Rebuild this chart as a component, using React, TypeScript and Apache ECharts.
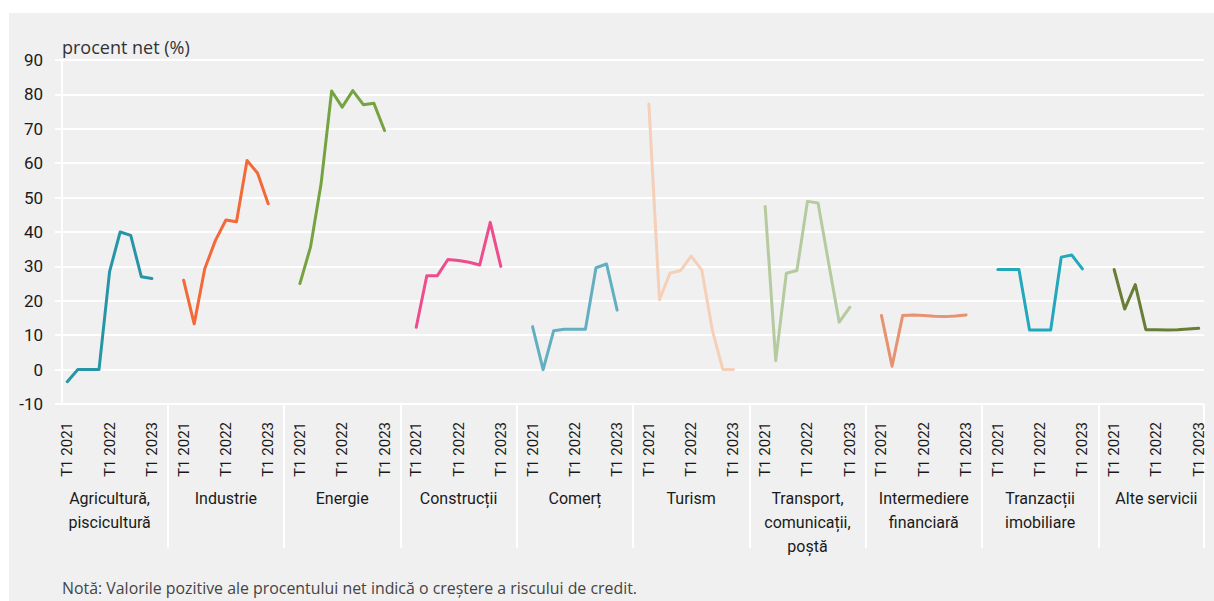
import React, { useEffect, useRef } from "react";
import * as echarts from "echarts";

const quarters = ["T1 2021", "T2 2021", "T3 2021", "T4 2021", "T1 2022", "T2 2022", "T3 2022", "T4 2022", "T1 2023"];
const shownQuarters = [0, 4, 8];

const sectors = [
  "Agricultură,\npiscicultură",
  "Industrie",
  "Energie",
  "Construcții",
  "Comerț",
  "Turism",
  "Transport,\ncomunicații,\npoștă",
  "Intermediere\nfinanciară",
  "Tranzacții\nimobiliare",
  "Alte servicii",
];

const colors = ["#2895a6", "#f26a38", "#76a342", "#ee4c8d", "#63afc0", "#f5cfb8", "#b5cb9f", "#e79270", "#22a8ba", "#687d36"];

const agricultura = [-3.5, 0, 0, 0, 28.5, 40, 39, 27, 26.5];
const industrie = [26, 13.3, 29.3, 37.5, 43.5, 43, 60.8, 57.1, 48.2];
const energie = [25, 35.6, 54, 81, 76.3, 81.1, 77, 77.4, 69.5];
const constructii = [12.3, 27.3, 27.3, 32, 31.7, 31.2, 30.4, 42.8, 30];
const comert = [12.5, 0, 11.3, 11.7, 11.7, 11.7, 29.6, 30.7, 17.3];
const turism = [77.2, 20.3, 28, 28.8, 33, 29, 11.5, 0, 0];
const transport = [47.4, 2.6, 28, 28.8, 48.9, 48.4, 31, 13.8, 18.1];
const intermediere = [15.7, 1, 15.7, 15.9, 15.7, 15.5, 15.4, 15.6, 15.9];
const tranzactii = [29.1, 29.1, 29.1, 11.5, 11.5, 11.5, 32.7, 33.3, 29.3];
const alteServicii = [29.1, 17.6, 24.7, 11.6, 11.6, 11.5, 11.6, 11.8, 12];

const seriesValues = [agricultura, industrie, energie, constructii, comert, turism, transport, intermediere, tranzactii, alteServicii];

const yTicks = { min: -10, max: 90, interval: 10 };

const noteText = "Notă: Valorile pozitive ale procentului net indică o creștere a riscului de credit.";
const yName = "procent net (%)";

const NARROW = "Roboto, 'Noto Sans', sans-serif";
const REGULAR = "'Open Sans', 'Noto Sans', sans-serif";

export default function App() {
  const ref = useRef<HTMLDivElement>(null);

  useEffect(() => {
    if (!ref.current) return;
    const chart = echarts.init(ref.current, undefined, { renderer: "svg" });

    const cats: string[] = [];
    const slotIndex: number[][] = [];
    sectors.forEach((_, g) => {
      const idx: number[] = [];
      quarters.forEach((_, q) => {
        idx.push(cats.length);
        cats.push(`${g}|${q}`);
      });
      slotIndex.push(idx);
      if (g < sectors.length - 1) {
        cats.push(`${g}|gap1`);
        cats.push(`${g}|gap2`);
      }
    });

    const series = seriesValues.map((vals, g) => {
      const data: (number | null)[] = cats.map(() => null);
      vals.forEach((v, q) => {
        data[slotIndex[g][q]] = v;
      });
      return {
        type: "line",
        name: sectors[g],
        data,
        xAxisIndex: 0,
        yAxisIndex: 0,
        symbol: "none",
        connectNulls: false,
        lineStyle: { color: colors[g], width: 3, cap: "round", join: "round" },
        itemStyle: { color: colors[g] },
      };
    });

    const parse = (v: string) => {
      const [g, q] = v.split("|");
      return { g: Number(g), q };
    };

    chart.setOption({
      animation: false,
      backgroundColor: "#f0f0f0",
      grid: { left: 53, top: 47, width: 1142, height: 344, containLabel: false },
      xAxis: [
        {
          type: "category",
          data: cats,
          boundaryGap: true,
          position: "bottom",
          axisLine: { show: false },
          axisTick: { show: false },
          splitLine: { show: false },
          axisLabel: {
            rotate: 90,
            margin: 18,
            fontFamily: NARROW,
            fontSize: 15,
            color: "#1a1a1a",
            interval: (index: number, value: string) => {
              const { q } = parse(value);
              return shownQuarters.includes(Number(q)) && !q.startsWith("gap");
            },
            formatter: (value: string) => {
              const { q } = parse(value);
              return quarters[Number(q)] ?? "";
            },
          },
        },
        {
          type: "category",
          data: cats,
          boundaryGap: true,
          position: "bottom",
          axisLine: { show: false },
          axisTick: {
            show: true,
            length: 144,
            lineStyle: { color: "#ffffff", width: 2 },
            interval: (index: number, value: string) => String(value).endsWith("gap2"),
          },
          splitLine: { show: false },
          axisLabel: {
            margin: 82,
            fontFamily: NARROW,
            fontSize: 16,
            lineHeight: 24,
            color: "#1a1a1a",
            align: "center",
            interval: (index: number, value: string) => parse(value).q === "4",
            formatter: (value: string) => sectors[parse(value).g] ?? "",
          },
        },
      ],
      yAxis: {
        type: "value",
        min: yTicks.min,
        max: yTicks.max,
        interval: yTicks.interval,
        name: yName,
        nameLocation: "end",
        nameGap: 4,
        nameTextStyle: { align: "left", fontFamily: REGULAR, fontSize: 18, color: "#333333" },
        axisLine: { show: true, lineStyle: { color: "#ffffff", width: 2 } },
        axisTick: { show: true, length: 7, lineStyle: { color: "#ffffff", width: 2 } },
        splitLine: { show: true, lineStyle: { color: "#ffffff", width: 2 } },
        axisLabel: { margin: 19, fontFamily: NARROW, fontSize: 17, color: "#1a1a1a" },
      },
      graphic: [
        {
          type: "text",
          left: 53,
          top: 567,
          style: { text: noteText, fontFamily: REGULAR, fontSize: 15.9, fill: "#444444" },
        },
      ],
      series,
    });

    return () => chart.dispose();
  }, []);

  return (
    <div
      ref={ref}
      style={{ position: "absolute", left: 9, top: 13, width: 1205, height: 588, background: "#f0f0f0" }}
    />
  );
}
